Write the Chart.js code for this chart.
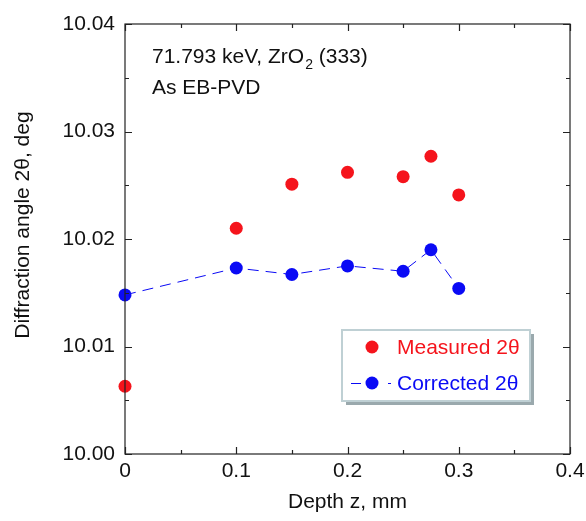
<!DOCTYPE html>
<html lang="en">
<head>
    <meta charset="UTF-8">
    <title>Diffraction angle vs depth</title>
    <script src="https://cdn.jsdelivr.net/npm/chart.js"></script>
    <style>
        html, body { margin: 0; padding: 0; background: #fff; }
        #wrap { width: 586px; height: 521px; position: relative; }
    </style>
</head>
<body>
    <div id="wrap"><canvas id="chart"></canvas></div>

    <script>
        // Data
        const depths = [0, 0.1, 0.15, 0.2, 0.25, 0.275, 0.3];
        const measured = [10.0063, 10.0210, 10.0251, 10.0262, 10.0258, 10.0277, 10.0241];
        const corrected = [10.0148, 10.0173, 10.0167, 10.0175, 10.0170, 10.0190, 10.0154];
        const xTicks = [0, 0.1, 0.2, 0.3, 0.4];
        const yTicks = [10.00, 10.01, 10.02, 10.03, 10.04];

        const FONT = '"Liberation Sans", Arial, Helvetica, sans-serif';
        const RED = '#f5141c';
        const BLUE = '#0a0af5';

        const toPoints = (xs, ys) => xs.map((x, i) => ({ x: x, y: ys[i] }));

        // frame, inward ticks, y title, annotation text and legend box
        const decorations = {
            id: 'decorations',
            afterDatasetsDraw(chart) {
                const ctx = chart.ctx;
                const a = chart.chartArea;
                const xs = chart.scales.x, ys = chart.scales.y;
                ctx.save();
                ctx.strokeStyle = '#222';
                ctx.lineWidth = 1.2;
                ctx.strokeRect(a.left, a.top, a.right - a.left, a.bottom - a.top);

                ctx.beginPath();
                for (let v = 0; v <= 0.4001; v += 0.05) {
                    const px = Math.round(xs.getPixelForValue(v)) + 0.5;
                    const major = Math.abs(v * 10 - Math.round(v * 10)) < 1e-6;
                    const len = major ? 7 : 4;
                    ctx.moveTo(px, a.bottom); ctx.lineTo(px, a.bottom - len);
                    ctx.moveTo(px, a.top); ctx.lineTo(px, a.top + len);
                }
                for (let k = 0; k <= 8; k++) {
                    const v = 10 + k * 0.005;
                    const py = Math.round(ys.getPixelForValue(v)) + 0.5;
                    const len = k % 2 === 0 ? 7 : 4;
                    ctx.moveTo(a.left, py); ctx.lineTo(a.left + len, py);
                    ctx.moveTo(a.right, py); ctx.lineTo(a.right - len, py);
                }
                ctx.stroke();

                // y axis title
                ctx.fillStyle = '#111';
                ctx.font = '21px ' + FONT;
                ctx.save();
                ctx.translate(23, 225);
                ctx.rotate(-Math.PI / 2);
                ctx.textAlign = 'center';
                ctx.textBaseline = 'middle';
                ctx.fillText('Diffraction angle 2\u03b8, deg', 0, 0);
                ctx.restore();

                // annotation
                ctx.textBaseline = 'alphabetic';
                ctx.textAlign = 'left';
                let tx = 152;
                const t1 = '71.793 keV, ZrO';
                ctx.fillText(t1, tx, 63);
                tx += ctx.measureText(t1).width;
                ctx.font = '14px ' + FONT;
                ctx.fillText('2', tx + 1, 69);
                tx += ctx.measureText('2').width + 1;
                ctx.font = '21px ' + FONT;
                ctx.fillText(' (333)', tx, 63);
                ctx.fillText('As EB-PVD', 152, 94);

                // legend box with shadow
                const bx = 342, by = 330, bw = 188, bh = 71;
                ctx.fillStyle = '#9aa9ad';
                ctx.fillRect(bx + 4, by + 4, bw, bh);
                ctx.fillStyle = '#ffffff';
                ctx.fillRect(bx, by, bw, bh);
                ctx.strokeStyle = '#bfd0d4';
                ctx.lineWidth = 2;
                ctx.strokeRect(bx, by, bw, bh);

                ctx.font = '21px ' + FONT;
                ctx.textBaseline = 'middle';
                ctx.fillStyle = RED;
                ctx.beginPath(); ctx.arc(372, 347, 6.5, 0, Math.PI * 2); ctx.fill();
                ctx.fillText('Measured 2\u03b8', 397, 348);

                ctx.strokeStyle = BLUE;
                ctx.lineWidth = 1;
                ctx.beginPath();
                ctx.moveTo(351, 383.5); ctx.lineTo(361, 383.5);
                ctx.moveTo(388, 383.5); ctx.lineTo(391, 383.5);
                ctx.stroke();
                ctx.fillStyle = BLUE;
                ctx.beginPath(); ctx.arc(372, 383, 6.5, 0, Math.PI * 2); ctx.fill();
                ctx.fillText('Corrected 2\u03b8', 397, 384);
                ctx.restore();
            }
        };

        new Chart(document.getElementById('chart'), {
            type: 'scatter',
            data: {
                datasets: [
                    {
                        label: 'Measured 2θ',
                        data: toPoints(depths, measured),
                        showLine: false,
                        pointRadius: 6.5,
                        pointBackgroundColor: RED,
                        pointBorderWidth: 0,
                        clip: false
                    },
                    {
                        label: 'Corrected 2θ',
                        data: toPoints(depths, corrected),
                        showLine: true,
                        borderColor: BLUE,
                        borderWidth: 1,
                        borderDash: [11, 7],
                        pointRadius: 6.5,
                        pointBackgroundColor: BLUE,
                        pointBorderWidth: 0,
                        clip: false
                    }
                ]
            },
            options: {
                responsive: true,
                maintainAspectRatio: false,
                animation: false,
                events: [],
                layout: { padding: { top: 24, right: 16, left: 0, bottom: 0 } },
                plugins: {
                    legend: { display: false },
                    tooltip: { enabled: false }
                },
                scales: {
                    x: {
                        type: 'linear',
                        min: 0, max: 0.4,
                        grid: { display: false, drawTicks: false },
                        border: { display: false },
                        afterBuildTicks: s => { s.ticks = xTicks.map(v => ({ value: v })); },
                        afterFit: s => { s.height = 67; s.paddingLeft = 0; s.paddingRight = 0; },
                        ticks: {
                            padding: 5,
                            color: '#111',
                            font: { family: FONT, size: 21 },
                            callback: v => v === 0 ? '0' : String(v)
                        },
                        title: {
                            display: true,
                            text: 'Depth z, mm',
                            color: '#111',
                            font: { family: FONT, size: 21 },
                            padding: { top: 0, bottom: 6 }
                        }
                    },
                    y: {
                        type: 'linear',
                        min: 10.0, max: 10.04,
                        grid: { display: false, drawTicks: false },
                        border: { display: false },
                        afterBuildTicks: s => { s.ticks = yTicks.map(v => ({ value: v })); },
                        afterFit: s => { s.width = 125; s.paddingTop = 0; s.paddingBottom = 0; },
                        ticks: {
                            padding: 10,
                            color: '#111',
                            font: { family: FONT, size: 21 },
                            callback: v => Number(v).toFixed(2)
                        }
                    }
                }
            },
            plugins: [decorations]
        });
    </script>
</body>
</html>
